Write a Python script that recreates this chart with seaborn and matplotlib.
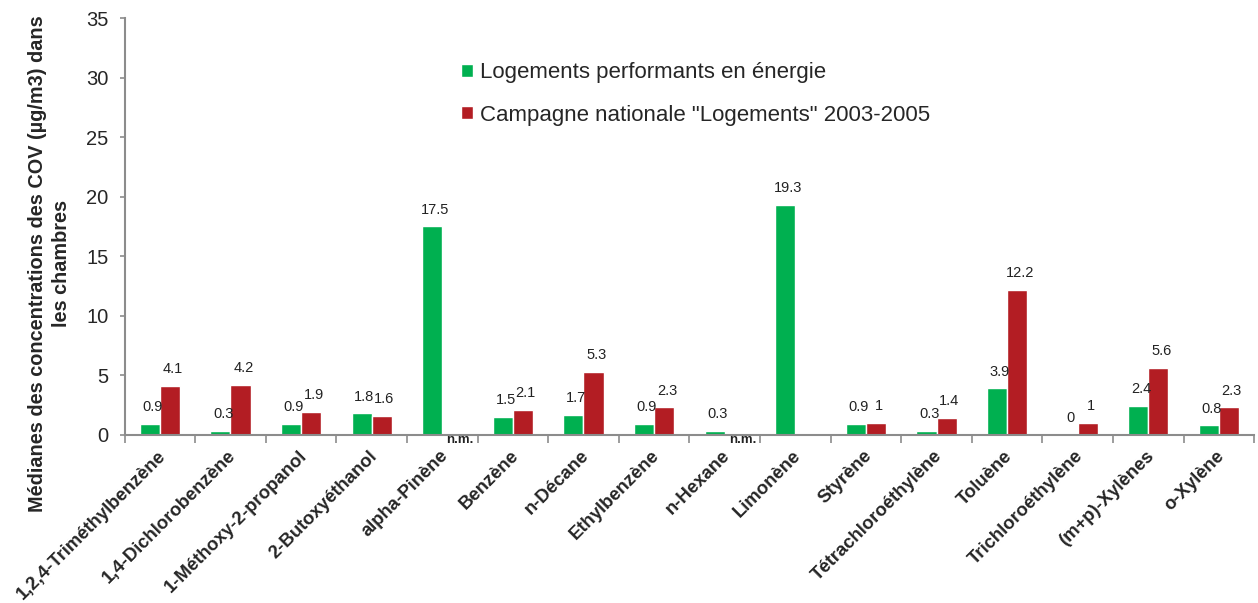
import numpy as np
import pandas as pd
import seaborn as sns
import matplotlib.pyplot as plt
import matplotlib.transforms as mtransforms

sns.set_theme(style="white")
plt.rcParams['font.family'] = ['Liberation Sans', 'DejaVu Sans']

# data (nan = no value shown)
composes = ["1,2,4-Triméthylbenzène", "1,4-Dichlorobenzène", "1-Méthoxy-2-propanol",
            "2-Butoxyéthanol", "alpha-Pinène", "Benzène", "n-Décane", "Ethylbenzène",
            "n-Hexane", "Limonène", "Styrène", "Tétrachloroéthylène", "Toluène",
            "Trichloroéthylène", "(m+p)-Xylènes", "o-Xylène"]
perf = [0.9, 0.3, 0.9, 1.8, 17.5, 1.5, 1.7, 0.9, 0.3, 19.3, 0.9, 0.3, 3.9, 0, 2.4, 0.8]
campagne = [4.1, 4.2, 1.9, 1.6, np.nan, 2.1, 5.3, 2.3, np.nan, np.nan, 1, 1.4, 12.2, 1, 5.6, 2.3]
non_mesure = ["alpha-Pinène", "n-Hexane"]

serie1 = "Logements performants en énergie"
serie2 = 'Campagne nationale "Logements" 2003-2005'

df = pd.concat([
    pd.DataFrame({"compose": composes, "valeur": perf, "serie": serie1}),
    pd.DataFrame({"compose": composes, "valeur": campagne, "serie": serie2}),
], ignore_index=True)

fig, ax = plt.subplots(figsize=(12.58, 6.03), dpi=100)
fig.subplots_adjust(left=0.099, right=0.997, bottom=0.279, top=0.970)

sns.barplot(data=df, x="compose", y="valeur", hue="serie", order=composes,
            hue_order=[serie1, serie2], palette=["#00B050", "#B31D23"],
            width=0.57, saturation=1, errorbar=None, ax=ax)

# value labels above bars
for cont in ax.containers:
    for bar in cont:
        h = bar.get_height()
        if np.isnan(h):
            continue
        ax.annotate(f"{h:g}", (bar.get_x() + bar.get_width() / 2, h),
                    xytext=(2, 7), textcoords="offset points",
                    ha="center", va="bottom", fontsize=10.5, color="#222222")

# n.m. markers for values not measured
for name in non_mesure:
    i = composes.index(name)
    ax.annotate("n.m.", (i + 0.25, 0), xytext=(0, -4), textcoords="offset points",
                ha="center", va="center", fontsize=9.5, fontweight="bold", color="#222222")

ax.set_ylim(0, 35)
ax.set_yticks(range(0, 36, 5))
ax.set_xlim(-0.5, len(composes) - 0.5)
ax.set_xticks(np.arange(-0.5, len(composes), 1), minor=True)
ax.tick_params(bottom=True, left=True, which="both")
ax.tick_params(axis="x", which="major", length=0, pad=4)
ax.tick_params(axis="x", which="minor", length=6, width=1.2, color="#8c8c8c", direction="out")
ax.tick_params(axis="y", length=3.5, width=1.2, color="#8c8c8c", direction="out",
               labelsize=14.5, pad=8)

offset = mtransforms.ScaledTranslation(-0.03, -0.07, fig.dpi_scale_trans)
for lab in ax.get_xticklabels():
    lab.set_rotation(45)
    lab.set_ha("right")
    lab.set_va("top")
    lab.set_rotation_mode("anchor")
    lab.set_fontweight("bold")
    lab.set_fontsize(13.3)
    lab.set_transform(lab.get_transform() + offset)

ax.set_xlabel("")
ax.set_ylabel("Médianes des concentrations des COV (µg/m3) dans\nles chambres",
              fontsize=14.3, fontweight="bold", linespacing=1.35)
ax.yaxis.set_label_coords(-0.047, 0.41)

sns.despine(ax=ax)
for s in ["left", "bottom"]:
    ax.spines[s].set_color("#8c8c8c")
    ax.spines[s].set_linewidth(1.5)

ax.legend(loc="upper left", bbox_to_anchor=(0.290, 0.915), frameon=False,
          fontsize=16, handlelength=0.55, handleheight=0.55, handletextpad=0.3,
          labelspacing=0.95, borderaxespad=0)

fig.savefig("out.png", dpi=100)
